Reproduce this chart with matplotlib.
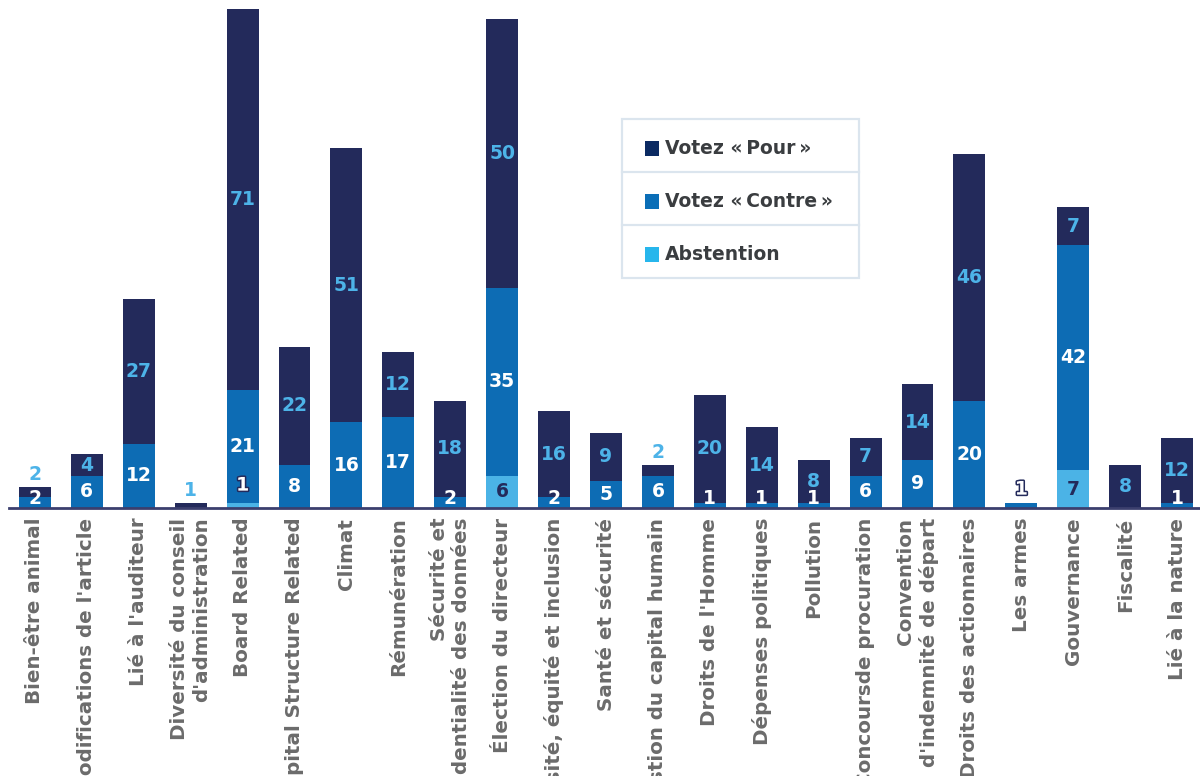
import matplotlib
matplotlib.use("Agg")
import matplotlib.pyplot as plt
import matplotlib.patheffects as pe
from matplotlib.patches import Rectangle
from matplotlib.lines import Line2D
import numpy as np

plt.rcParams["font.family"] = ["DejaVu Sans"]

categories = [
    "Bien-être animal",
    "Modifications de l'article",
    "Lié à l'auditeur",
    "Diversité du conseil\nd'administration",
    "Board Related",
    "Capital Structure Related",
    "Climat",
    "Rémunération",
    "Sécurité et\nconfidentialité des données",
    "Élection du directeur",
    "Diversité, équité et inclusion",
    "Santé et sécurité",
    "Gestion du capital humain",
    "Droits de l'Homme",
    "Dépenses politiques",
    "Pollution",
    "Concoursde procuration",
    "Convention\nd'indemnité de départ",
    "Droits des actionnaires",
    "Les armes",
    "Gouvernance",
    "Fiscalité",
    "Lié à la nature",
]
votes_pour = [2, 4, 27, 1, 71, 22, 51, 12, 18, 50, 16, 9, 2, 20, 14, 8, 7, 14, 46, 0, 7, 8, 12]
votes_contre = [2, 6, 12, 0, 21, 8, 16, 17, 2, 35, 2, 5, 6, 1, 1, 1, 6, 9, 20, 1, 42, 0, 1]
abstention = [0, 0, 0, 0, 1, 0, 0, 0, 0, 6, 0, 0, 0, 0, 0, 0, 0, 0, 0, 0, 7, 0, 0]

legend_labels = ["Votez «\u202fPour\u202f»", "Votez «\u202fContre\u202f»", "Abstention"]

NAVY = "#232a5b"
MID = "#0d6cb4"
LIGHT = "#4bb3e6"
LABEL_LIGHT = "#4db3e8"
TICK_GREY = "#6b6b6b"

W, H = 1200, 776
fig = plt.figure(figsize=(W / 100, H / 100), dpi=100)
ax = fig.add_axes([9 / W, (H - 508) / H, 1194 / W, 508 / H])

x = np.arange(len(categories))
pour = np.array(votes_pour, dtype=float)
contre = np.array(votes_contre, dtype=float)
abst = np.array(abstention, dtype=float)
width = 0.615

ax.bar(x, abst, width, color=LIGHT, zorder=2)
ax.bar(x, contre, width, bottom=abst, color=MID, zorder=2)
ax.bar(x, pour, width, bottom=abst + contre, color=NAVY, zorder=2)

ax.set_xlim(-0.5, len(categories) - 0.5)
ax.set_ylim(0, 94.6)
ax.set_yticks([])
for side in ("left", "right", "top"):
    ax.spines[side].set_visible(False)
ax.spines["bottom"].set_color("#3b3f6e")
ax.spines["bottom"].set_linewidth(2)
ax.spines["bottom"].set_zorder(3)

ax.set_xticks(x)
ax.set_xticklabels(categories, rotation=90, fontsize=14.3, fontweight="bold",
                   color=TICK_GREY, multialignment="right")
ax.tick_params(axis="x", length=0, pad=7)

outline = [pe.withStroke(linewidth=2.2, foreground=NAVY)]
num_kw = dict(ha="center", fontsize=13.5, fontweight="bold", zorder=4)


def put_center(xi, y, val, color):
    ax.text(xi, y, f"{int(val)}", va="center", color=color, **num_kw)


def put_above(xi, y, val, color, effects=None, offset=3):
    t = ax.annotate(f"{int(val)}", (xi, y), xytext=(0, offset),
                    textcoords="offset pixels", va="bottom", color=color, **num_kw)
    if effects:
        t.set_path_effects(effects)


for i in range(len(categories)):
    a, c, p = abst[i], contre[i], pour[i]
    # abstention segment
    if a > 0:
        if a >= 3:
            put_center(i, a / 2, a, NAVY)
        else:
            put_above(i, a, a, "white", outline, offset=8)
    # vote against segment
    if c > 0:
        if c >= 3:
            put_center(i, a + c / 2, c, "white")
        elif p > 0:
            put_center(i, a + max(c / 2, 1.7), c, "white")
        else:
            put_above(i, a + c, c, "white", outline, offset=4)
    # vote for segment
    if p > 0:
        if p >= 3:
            put_center(i, a + c + p / 2, p, LABEL_LIGHT)
        else:
            put_above(i, a + c + p, p, LABEL_LIGHT, offset=3)

# Legend box with three stacked rows
box_l, box_r, box_t, row_h = 622, 859, 119, 53
swatches = ["#0b2a62", "#0a6eb7", "#27b6ec"]
def fx(px):
    return px / W
def fy(py):
    return 1 - py / H

fig.patches.append(Rectangle((fx(box_l), fy(box_t + 3 * row_h)), fx(box_r - box_l),
                             (3 * row_h) / H, transform=fig.transFigure,
                             facecolor="white", edgecolor="#dbe5ee", linewidth=1.6, zorder=5))
for k in (1, 2):
    fig.lines.append(Line2D([fx(box_l), fx(box_r)], [fy(box_t + k * row_h)] * 2,
                            transform=fig.transFigure, color="#dbe5ee", linewidth=1.6, zorder=6))
for k, (lab, col) in enumerate(zip(legend_labels, swatches)):
    cy = box_t + k * row_h + row_h / 2 + 3
    fig.patches.append(Rectangle((fx(645), fy(cy + 7)), fx(14), 14 / H,
                                 transform=fig.transFigure, facecolor=col,
                                 edgecolor="none", zorder=7))
    fig.text(fx(665), fy(cy), lab, ha="left", va="center", fontsize=13.5,
             fontweight="bold", color="#3a3d40", zorder=7)

fig.savefig("out.png", dpi=100)
